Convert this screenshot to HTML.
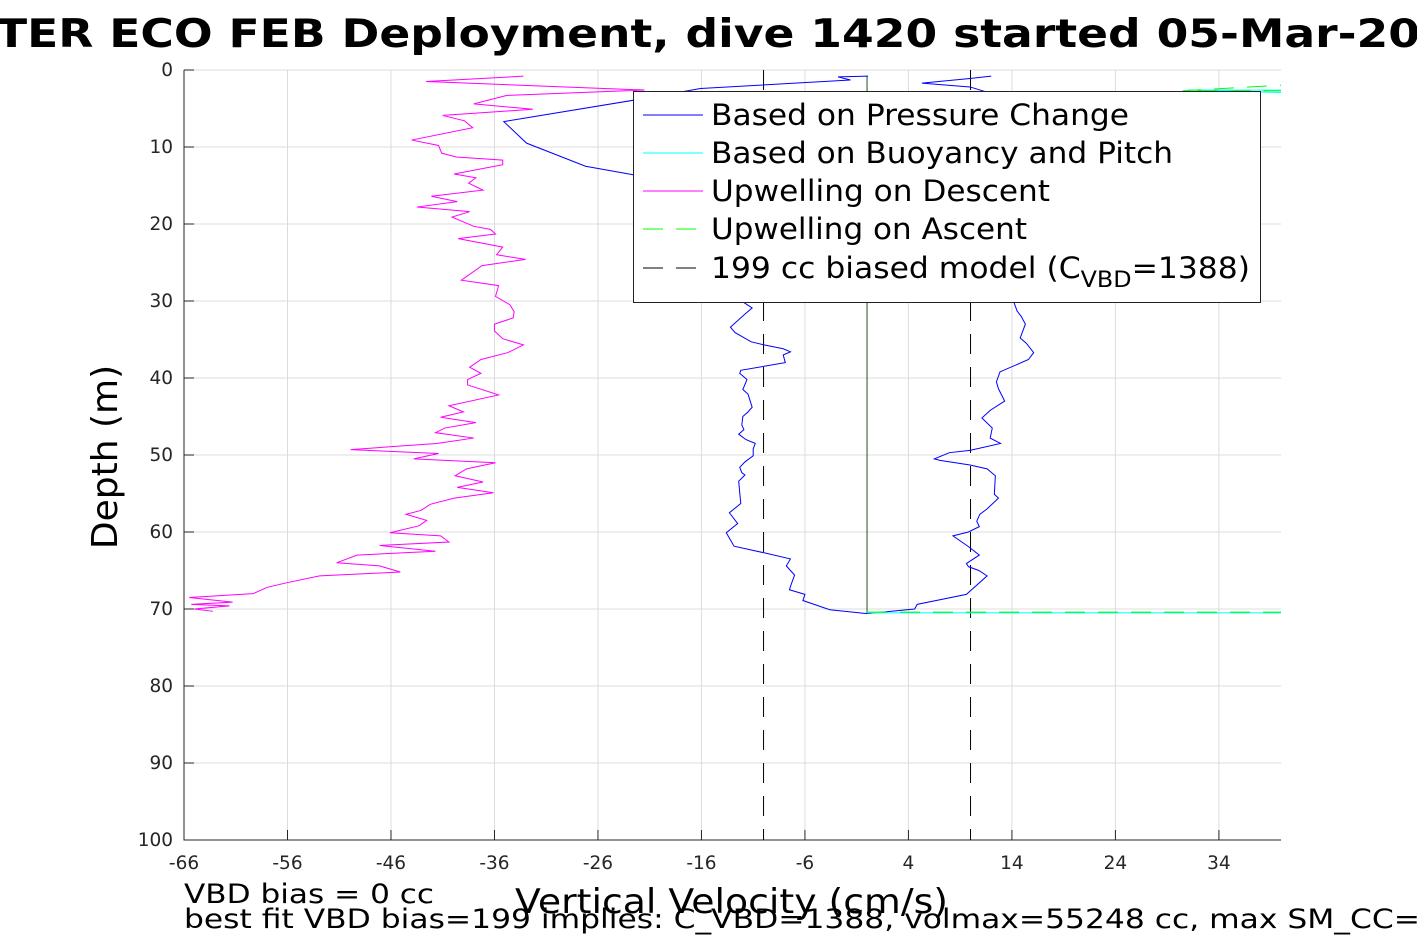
<!DOCTYPE html>
<html><head><meta charset="utf-8"><style>
body{margin:0;background:#fff;}
svg{display:block;font-family:"DejaVu Sans","Liberation Sans",sans-serif;}
</style></head><body>
<svg id="chart" width="1417" height="945" viewBox="0 0 1417 945">
<rect width="1417" height="945" fill="#fff"/>
<g id="grid"></g>
<g id="axes"></g>
<defs><clipPath id="clip"><rect x="184" y="70" width="1097" height="770"/></clipPath></defs>
<g id="series" clip-path="url(#clip)"></g>
<text x="-4" y="47" font-size="39" font-weight="bold" textLength="1424" lengthAdjust="spacingAndGlyphs">TER ECO FEB Deployment, dive 1420 started 05-Mar-20</text>
<text transform="translate(117,457) rotate(-90)" text-anchor="middle" font-size="36">Depth (m)</text>
<text x="515" y="913" font-size="34" textLength="433" lengthAdjust="spacingAndGlyphs">Vertical Velocity (cm/s)</text>
<text x="184" y="903" font-size="27" textLength="250" lengthAdjust="spacingAndGlyphs">VBD bias = 0 cc</text>
<text x="184" y="928" font-size="27" textLength="1236" lengthAdjust="spacingAndGlyphs">best fit VBD bias=199 implies: C_VBD=1388, volmax=55248 cc, max SM_CC=</text>
<g>
<rect x="633.5" y="91.5" width="627" height="211" fill="#fff" stroke="#222" stroke-width="1"/>
<line x1="643" y1="115" x2="703" y2="115" stroke="#0000ff"/>
<text x="711" y="125" font-size="29" textLength="418" lengthAdjust="spacingAndGlyphs">Based on Pressure Change</text>
<line x1="643" y1="153" x2="703" y2="153" stroke="#00ffff"/>
<text x="711" y="163" font-size="29" textLength="462" lengthAdjust="spacingAndGlyphs">Based on Buoyancy and Pitch</text>
<line x1="643" y1="191" x2="703" y2="191" stroke="#ff00ff"/>
<text x="711" y="201" font-size="29" textLength="339" lengthAdjust="spacingAndGlyphs">Upwelling on Descent</text>
<line x1="643" y1="229" x2="703" y2="229" stroke="#00ff00" stroke-dasharray="20,13"/>
<text x="711" y="239" font-size="29" textLength="316" lengthAdjust="spacingAndGlyphs">Upwelling on Ascent</text>
<line x1="643" y1="268" x2="703" y2="268" stroke="#000" stroke-dasharray="20,13"/>
<text x="711" y="278" font-size="29" textLength="539" lengthAdjust="spacingAndGlyphs">199 cc biased model (C<tspan font-size="22" dy="9">VBD</tspan><tspan dy="-9">=1388)</tspan></text>
</g>
</svg>
<script>
const xTicks=[-66,-56,-46,-36,-26,-16,-6,4,14,24,34];
const yTicks=[0,10,20,30,40,50,60,70,80,90,100];
const upDescV=[-33.2,-42.6,-21.5,-34.8,-38.0,-32.3,-41.0,-38.9,-38.1,-44.0,-41.4,-41.1,-39.7,-35.2,-35.2,-39.9,-37.8,-38.5,-37.1,-42.1,-39.6,-43.5,-38.4,-40.1,-38.0,-36.4,-35.9,-39.5,-35.2,-35.8,-33.0,-37.2,-39.2,-35.6,-35.9,-34.5,-34.1,-34.2,-36.0,-36.0,-35.2,-33.2,-34.7,-37.3,-38.4,-37.3,-38.6,-38.6,-35.6,-40.4,-39.0,-41.2,-37.8,-40.8,-41.7,-38.0,-41.6,-49.9,-41.4,-43.8,-35.9,-38.7,-39.8,-37.1,-39.6,-36.1,-39.9,-42.2,-43.1,-44.55,-42.55,-43.3,-46.1,-41.2,-40.4,-47.1,-41.7,-49.3,-51.25,-47.1,-45.1,-52.9,-56.1,-58.0,-59.3,-65.5,-61.3,-65.3,-61.6,-65.0,-63.2];
const upDescD=[0.8,1.5,2.6,3.3,4.4,5.1,5.9,6.6,7.5,9.1,9.8,10.8,11.3,11.7,12.3,13.5,14.0,14.7,15.6,16.4,17.1,17.8,18.4,19.1,20.3,20.7,21.3,21.9,23.0,24.0,24.6,25.4,27.3,28.0,29.4,30.5,31.4,32.2,33.0,33.9,34.9,35.7,36.7,37.6,38.6,39.4,40.2,40.9,42.2,43.6,44.4,45.1,45.8,46.5,47.1,47.8,48.5,49.3,49.8,50.5,51.0,51.8,52.7,53.5,54.2,54.9,55.6,56.4,57.2,57.7,58.5,59.2,60.1,60.5,61.3,61.75,62.5,63.0,64.0,64.4,65.2,65.7,66.6,67.2,68.0,68.5,69.1,69.4,69.6,70.0,70.3];
const descV=[0.1,-2.8,-1.6,-16.1,-21.1,-35.1,-32.9,-27.2,-22.6,-16,-14,-13,-12,-11.9,-11.1,-11.8,-13.2,-12.75,-11.2,-9.95,-8.1,-7.4,-8.1,-7.9,-12.2,-12.3,-11.6,-12.0,-11.5,-11.1,-11.5,-12.0,-12.1,-11.9,-12.4,-11.7,-10.8,-11.0,-11.0,-11.8,-12.3,-12.1,-11.8,-12.4,-12.3,-12.2,-13.3,-12.5,-13.6,-12.85,-9.95,-7.4,-7.8,-7.0,-7.3,-7.5,-6.0,-6.2,-3.6,0];
const descD=[0.8,0.9,1.3,2.4,3.6,6.7,9.5,12.5,13.6,16,20,25,29,30.2,30.9,31.7,33.4,34.1,35.3,35.7,36.2,36.6,37.0,38.0,39.0,39.4,40.2,41.5,42.1,43.8,44.4,45.0,46.1,46.7,47.3,48.0,48.5,49.2,50.1,50.9,51.6,52.3,52.6,53.4,54.9,56.3,57.5,58.9,60.1,61.85,62.7,63.5,64.4,65.6,66.7,67.5,68.1,68.9,70.1,70.6];
const ascV=[12.0,9.95,5.3,9.95,11.4,9,11,13,14,14.2,14.5,14.9,15.3,14.8,15.4,16.1,15.6,12.85,12.5,12.7,13.3,11.9,11.1,12.1,11.9,12.9,9.95,7.95,6.5,7.05,9.95,11.6,12.4,12.3,12.7,11.6,10.9,10.6,10.85,9.8,8.3,9.8,10.85,9.6,9.8,10.8,11.6,9.6,4.85,4.6,0];
const ascD=[0.8,1.1,1.7,2.2,2.8,5,10,18,25,30.2,31.3,32.0,33.0,34.8,35.5,36.7,37.6,39.2,40.5,41.4,43.0,44.2,45.2,46.5,47.8,48.5,49.4,49.7,50.5,50.7,51.3,51.8,52.7,55.1,55.6,57.0,57.7,58.6,59.3,60.0,60.5,61.9,63.0,64.1,64.5,65.0,65.7,68.1,69.4,70.0,70.6];
const upAscV=[45,30.5,200,0,200];
const upAscD=[1.6,2.7,2.9,70.4,70.4];
const buoyV=[42,31,200,0,200];
const buoyD=[3.0,2.6,2.8,70.5,70.5];
const modelV=[-10,10];
const zeroV=[0,0];
const zeroD=[0.8,70.6];
const xMin=-66,xMax=40,yMin=0,yMax=100,L=184,R=1281,T=70,B=840;
const sx=v=>L+(v-xMin)/(xMax-xMin)*(R-L);
const sy=d=>T+(d-yMin)/(yMax-yMin)*(B-T);
const NS='http://www.w3.org/2000/svg';
const grid=document.getElementById('grid'),axes=document.getElementById('axes'),series=document.getElementById('series');
function mk(tag,attrs,parent){const e=document.createElementNS(NS,tag);for(const k in attrs)e.setAttribute(k,attrs[k]);parent.appendChild(e);return e;}
xTicks.forEach(t=>{
 const g=mk('line',{x1:sx(t),x2:sx(t),y1:T,y2:B,stroke:'#dcdcdc','stroke-width':1},grid);
 
 
 const tk=mk('line',{x1:sx(t),x2:sx(t),y1:B,y2:B-10,stroke:'#262626'},axes);
 
 
 const tx=mk('text',{x:sx(t),y:B+29,'text-anchor':'middle','font-size':18.5,fill:'#262626'},axes);
 tx.textContent=t;
 
 
});
yTicks.forEach(t=>{
 const g=mk('line',{x1:L,x2:R,y1:sy(t),y2:sy(t),stroke:'#dcdcdc','stroke-width':1},grid);
 
 
 const tk=mk('line',{x1:L,x2:L+10,y1:sy(t),y2:sy(t),stroke:'#262626'},axes);
 
 
 const tx=mk('text',{x:L-11,y:sy(t)+6,'text-anchor':'end','font-size':18.5,fill:'#262626'},axes);
 tx.textContent=t;
 
 
});
const ax=mk('path',{d:`M${L},${T}V${B}H${R}`,fill:'none',stroke:'#262626','stroke-width':1},axes);


function line(vs,ds,color,dash,name){
 const p=mk('polyline',{points:vs.map((v,i)=>sx(v)+','+sy(ds[i])).join(' '),fill:'none',stroke:color,'stroke-width':1},series);
 if(dash)p.setAttribute('stroke-dasharray',dash);
 
 
}
modelV.forEach(v=>line([v,v],[yMin,yMax],'#000','20,13','model-line'));
line(zeroV,zeroD,'#1f4f1f',null,'zero-velocity-line');
line(upDescV,upDescD,'#ff00ff',null,'upwelling-descent-line');
line(descV,descD,'#0000ff',null,'pressure-descent-line');
line(ascV,ascD,'#0000ff',null,'pressure-ascent-line');
line(buoyV.slice(0,3),buoyD.slice(0,3),'#00ffff',null,'buoyancy-surface-line');
line(buoyV.slice(3),buoyD.slice(3),'#00ffff',null,'buoyancy-bottom-line');
line(upAscV.slice(0,3),upAscD.slice(0,3),'#00ff00','20,13','upwelling-ascent-surface');
line(upAscV.slice(3),upAscD.slice(3),'#00ff00','20,13','upwelling-ascent-bottom');
</script>
</body></html>
